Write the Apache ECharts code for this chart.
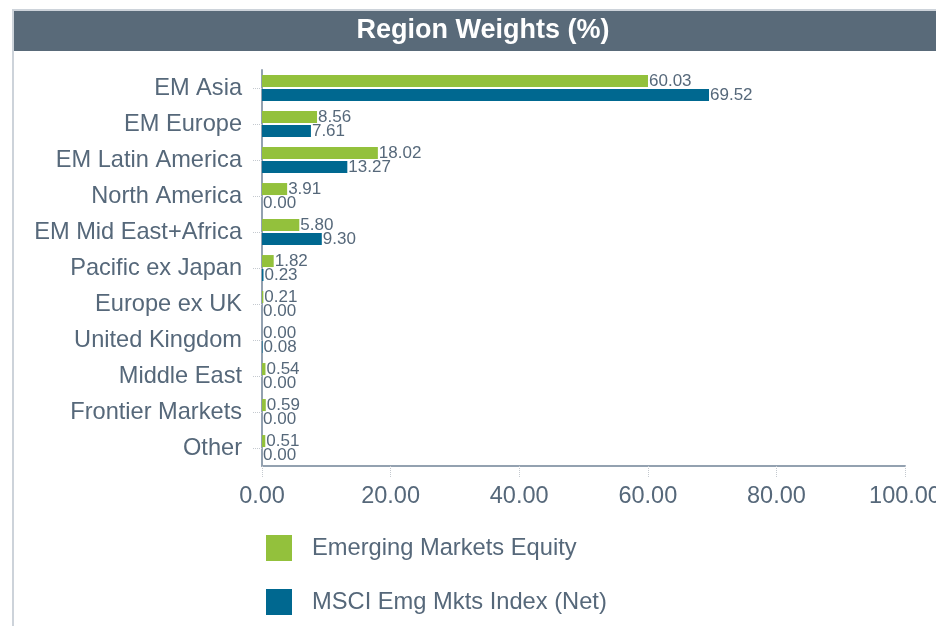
<!DOCTYPE html>
<html>
<head>
<meta charset="utf-8">
<script src="https://cdn.jsdelivr.net/npm/echarts@6/dist/echarts.min.js"></script>
<style>
  html, body { margin: 0; padding: 0; background: #ffffff; overflow: hidden; }
  #chart { width: 936px; height: 626px; }
</style>
</head>
<body>
<div id="chart"></div>
<script>
// Region weights, in percent
const regions = [
  'EM Asia', 'EM Europe', 'EM Latin America', 'North America',
  'EM Mid East+Africa', 'Pacific ex Japan', 'Europe ex UK',
  'United Kingdom', 'Middle East', 'Frontier Markets', 'Other'
];
const fundWeights  = [60.03, 8.56, 18.02, 3.91, 5.80, 1.82, 0.21, 0.00, 0.54, 0.59, 0.51];
const indexWeights = [69.52, 7.61, 13.27, 0.00, 9.30, 0.23, 0.00, 0.08, 0.00, 0.00, 0.00];
const seriesNames = ['Emerging Markets Equity', 'MSCI Emg Mkts Index (Net)'];
const titleText = 'Region Weights (%)';

const GREEN = '#93c13c';
const BLUE = '#006890';
const TEXT = '#56687a';
const FONT = '"Liberation Sans", Arial, sans-serif';

const chart = echarts.init(document.getElementById('chart'), null, { renderer: 'canvas' });

const labelStyle = {
  show: true,
  position: 'right',
  distance: 1,
  fontFamily: FONT,
  fontSize: 17,
  color: TEXT,
  formatter: p => p.value.toFixed(2)
};

chart.setOption({
  animation: false,
  backgroundColor: '#ffffff',
  graphic: [
    // panel frame
    { type: 'rect', shape: { x: 12, y: 9, width: 924, height: 2 }, style: { fill: '#cdd3da' }, silent: true },
    { type: 'rect', shape: { x: 12, y: 9, width: 2, height: 617 }, style: { fill: '#cdd3da' }, silent: true },
    // header band
    { type: 'rect', shape: { x: 14, y: 11, width: 922, height: 40 }, style: { fill: '#596a79' }, silent: true },
    {
      type: 'text', x: 483, y: 31,
      style: {
        text: titleText, fill: '#ffffff', font: 'bold 27px ' + FONT,
        textAlign: 'center', textVerticalAlign: 'middle'
      },
      silent: true
    }
  ],
  grid: {
    left: 262, right: 31, top: 70, bottom: 160,
    containLabel: false,
    outerBoundsMode: 'none'
  },
  legend: {
    orient: 'vertical',
    left: 261,
    top: 530,
    itemWidth: 26,
    itemHeight: 26,
    itemGap: 28,
    icon: 'rect',
    textStyle: { fontFamily: FONT, fontSize: 23.7, color: TEXT, padding: [3, 0, 0, 15] },
    data: seriesNames
  },
  xAxis: {
    type: 'value',
    min: 0,
    max: 100,
    interval: 20,
    axisLine: { show: true, lineStyle: { color: '#93a1b0', width: 2 } },
    axisTick: { show: true, length: 11, lineStyle: { color: '#c4c9cf', type: 'dotted', width: 1 } },
    splitLine: { show: false },
    axisLabel: {
      fontFamily: FONT, fontSize: 23.5, color: TEXT, margin: 19,
      formatter: v => v.toFixed(2)
    }
  },
  yAxis: {
    type: 'category',
    inverse: true,
    data: regions,
    axisLine: { show: true, lineStyle: { color: '#93a1b0', width: 2 } },
    axisTick: { show: true, length: 10, alignWithLabel: true, lineStyle: { color: '#c4c9cf', type: 'dotted', width: 1 } },
    axisLabel: { fontFamily: FONT, fontSize: 23.6, color: TEXT, margin: 20, padding: [3, 0, 0, 0] }
  },
  series: [
    {
      name: seriesNames[0], type: 'bar', data: fundWeights,
      barWidth: 12, barGap: '16%',
      itemStyle: { color: GREEN },
      label: labelStyle
    },
    {
      name: seriesNames[1], type: 'bar', data: indexWeights,
      barWidth: 12,
      itemStyle: { color: BLUE },
      label: labelStyle
    }
  ]
});
</script>
</body>
</html>
